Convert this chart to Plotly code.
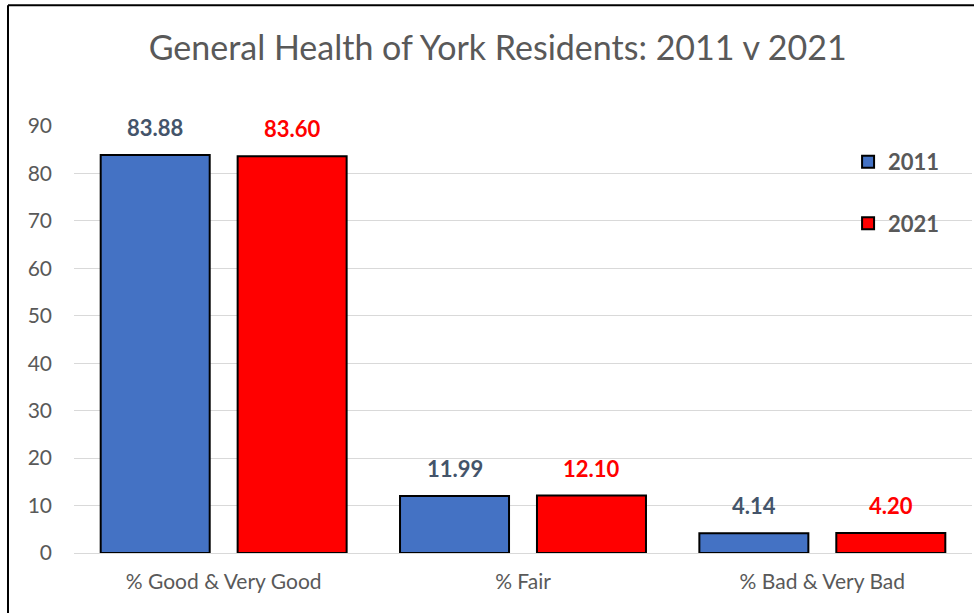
import plotly.graph_objects as go

categories = ["% Good & Very Good", "% Fair", "% Bad & Very Bad"]
values_2011 = [83.88, 11.99, 4.14]
values_2021 = [83.60, 12.10, 4.20]
series_names = ["2011", "2021"]
y_ticks = [0, 10, 20, 30, 40, 50, 60, 70, 80, 90]

blue = "#4472C4"
red = "#FF0000"
label_2011 = "#44546A"
gray = "#595959"
font_family = "Lato, 'Open Sans', sans-serif"

fig = go.Figure()
fig.add_trace(go.Bar(x=categories, y=values_2011, name=f"<b>{series_names[0]}</b>",
                     marker=dict(color=blue, line=dict(color="black", width=2)),
                     legendgroup="a"))
fig.add_trace(go.Bar(x=categories, y=values_2021, name=f"<b>{series_names[1]}</b>",
                     marker=dict(color=red, line=dict(color="black", width=2)),
                     legendgroup="b"))

annotations = []
for cat, v in zip(categories, values_2011):
    annotations.append(dict(x=cat, y=v, xref="x", yref="y", xshift=-68.5, yshift=12,
                            yanchor="bottom", text=f"<b>{v:.2f}</b>", showarrow=False,
                            font=dict(size=22, color=label_2011, family=font_family)))
for cat, v in zip(categories, values_2021):
    annotations.append(dict(x=cat, y=v, xref="x", yref="y", xshift=68.5, yshift=12,
                            yanchor="bottom", text=f"<b>{v:.2f}</b>", showarrow=False,
                            font=dict(size=22, color=red, family=font_family)))

fig.update_layout(
    width=974, height=613,
    margin=dict(l=74, r=2, t=126, b=60),
    paper_bgcolor="white", plot_bgcolor="white",
    barmode="group", bargap=0.085, bargroupgap=0.204,
    title=dict(text="General Health of York Residents: 2011 v 2021", x=0.511, xanchor="center",
               y=0.922, yanchor="middle",
               font=dict(size=34, color=gray, family=font_family)),
    font=dict(family=font_family, color=gray),
    xaxis=dict(tickfont=dict(size=21, color=gray), showline=False, ticks="",
               ticklabelstandoff=14),
    yaxis=dict(range=[0, 90], tickvals=y_ticks, showgrid=True, gridcolor="#D9D9D9",
               gridwidth=1, zeroline=True, zerolinecolor="#D9D9D9", zerolinewidth=1,
               tickfont=dict(size=21, color=gray), ticks="", ticklabelstandoff=21),
    legend=dict(x=0.862, y=0.965, xanchor="left", yanchor="top",
                font=dict(size=22, color=gray, family=font_family),
                tracegroupgap=30, itemwidth=30, bgcolor="rgba(0,0,0,0)",
                traceorder="grouped"),
    annotations=annotations,
    shapes=[
        dict(type="line", xref="paper", yref="paper", x0=-0.0735, x1=1.01, y0=1.283, y1=1.283,
             line=dict(color="black", width=2)),
        dict(type="line", xref="paper", yref="paper", x0=-0.0735, x1=-0.0735, y0=1.283, y1=-0.2,
             line=dict(color="black", width=2)),
    ],
)
fig.update_yaxes(automargin=False)
fig.update_xaxes(automargin=False)

fig.write_html("out.html", config={"displayModeBar": False},
               post_script="document.body.style.margin='0';document.body.style.overflow='hidden';")
